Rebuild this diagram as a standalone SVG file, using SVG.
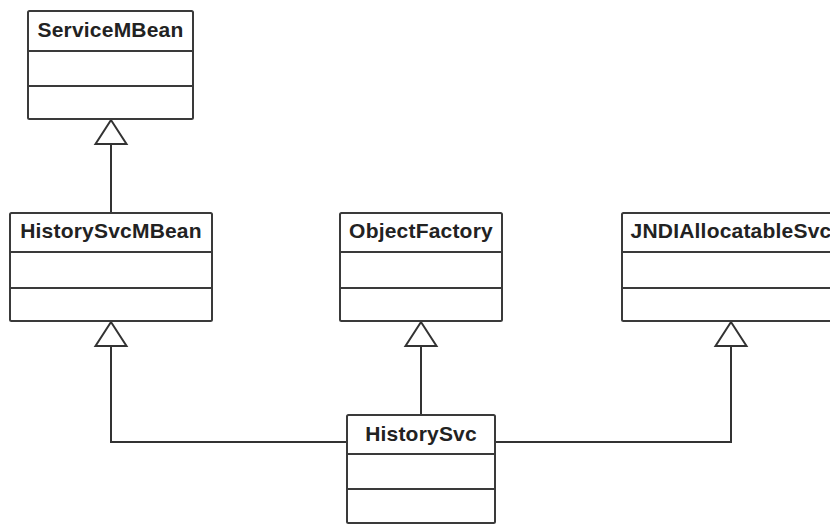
<svg xmlns="http://www.w3.org/2000/svg" width="830" height="525" viewBox="0 0 830 525">
  <style>
    .box { fill: #ffffff; stroke: #3a3a3a; stroke-width: 2; }
    .sep { stroke: #3a3a3a; stroke-width: 2; }
    .name { font-family: "Liberation Sans", Arial, sans-serif; font-weight: bold; font-size: 21px; letter-spacing: 0.2px; fill: #222222; text-anchor: middle; }
    .edge { fill: none; stroke: #333333; stroke-width: 2; }
    .head { fill: #ffffff; stroke: #333333; stroke-width: 2; stroke-linejoin: miter; }
  </style>
  <rect width="830" height="525" fill="#ffffff"/>

  <!-- generalization connectors -->
  <g id="connectors">
    <line class="edge" x1="111" y1="213" x2="111" y2="144"/>
    <polygon class="head" points="111,120 95.5,144 126.5,144"/>

    <polyline class="edge" points="347,442 111,442 111,346"/>
    <polygon class="head" points="111,322 95.5,346 126.5,346"/>

    <line class="edge" x1="421" y1="415" x2="421" y2="346"/>
    <polygon class="head" points="421,322 405.5,346 436.5,346"/>

    <polyline class="edge" points="495,442 731,442 731,346"/>
    <polygon class="head" points="731,322 715.5,346 746.5,346"/>
  </g>

  <g id="ServiceMBean">
    <rect class="box" x="28" y="11" width="165" height="108" rx="1.5"/>
    <line class="sep" x1="28" y1="51" x2="193" y2="51"/>
    <line class="sep" x1="28" y1="86" x2="193" y2="86"/>
    <text class="name" x="110.5" y="37">ServiceMBean</text>
  </g>

  <g id="HistorySvcMBean">
    <rect class="box" x="10" y="213" width="202" height="108" rx="1.5"/>
    <line class="sep" x1="10" y1="252" x2="212" y2="252"/>
    <line class="sep" x1="10" y1="288" x2="212" y2="288"/>
    <text class="name" x="111" y="238">HistorySvcMBean</text>
  </g>

  <g id="ObjectFactory">
    <rect class="box" x="340" y="213" width="162" height="108" rx="1.5"/>
    <line class="sep" x1="340" y1="252" x2="502" y2="252"/>
    <line class="sep" x1="340" y1="288" x2="502" y2="288"/>
    <text class="name" x="421" y="238">ObjectFactory</text>
  </g>

  <g id="JNDIAllocatableSvc">
    <rect class="box" x="622" y="213" width="218" height="108" rx="1.5"/>
    <line class="sep" x1="622" y1="252" x2="840" y2="252"/>
    <line class="sep" x1="622" y1="288" x2="840" y2="288"/>
    <text class="name" x="731" y="238">JNDIAllocatableSvc</text>
  </g>

  <g id="HistorySvc">
    <rect class="box" x="347" y="415" width="148" height="108" rx="1.5"/>
    <line class="sep" x1="347" y1="454" x2="495" y2="454"/>
    <line class="sep" x1="347" y1="489" x2="495" y2="489"/>
    <text class="name" x="421" y="441">HistorySvc</text>
  </g>
</svg>
